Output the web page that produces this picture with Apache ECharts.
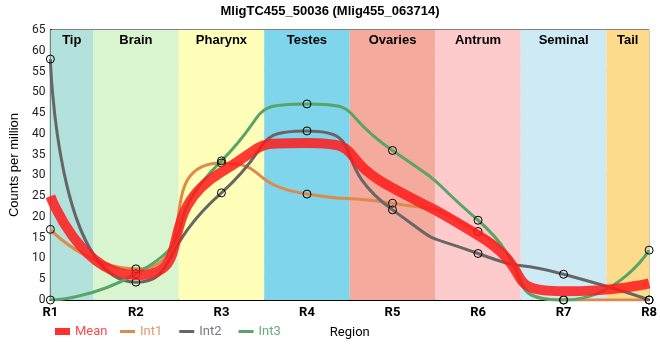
<!DOCTYPE html>
<html><head><meta charset="utf-8">
<script src="https://cdn.jsdelivr.net/npm/echarts@6/dist/echarts.min.js"></script>
<style>html,body{margin:0;padding:0;background:#fff}#c{width:660px;height:360px}</style>
</head><body><div id="c"></div>
<script>
const regions = ['R1','R2','R3','R4','R5','R6','R7','R8'];
const bandNames = ['Tip','Brain','Pharynx','Testes','Ovaries','Antrum','Seminal','Tail'];
const bandStarts = [1, 1.5, 2.5, 3.5, 4.5, 5.5, 6.5, 7.5];
const bandEnds   = [1.5, 2.5, 3.5, 4.5, 5.5, 6.5, 7.5, 8];
const bandColors = ['#b3e2dd','#d8f5d0','#ffffb9','#7fd5eb','#f4ab9d','#fdcbcb','#ceebf5','#fddb8b'];
const int1 = [17, 7.5, 33.0, 25.5, 23.3, 16.5, 0, 0];
const int2 = [58, 4.3, 25.8, 40.7, 21.7, 11.2, 6.2, 0];
const int3 = [0, 6.3, 33.5, 47.2, 36.0, 19.2, 0, 12];
const mean = [25, 6.0, 30.8, 37.8, 27.0, 15.6, 2.1, 4.0];

const pts = arr => arr.map((v, i) => [i + 1, v]);
const font = 'Roboto, "Liberation Sans", Arial, sans-serif';
const marker = {color: 'rgba(0,0,0,0)', borderColor: '#000', borderWidth: 1};
const SMOOTH = 0.7;

const chart = echarts.init(document.getElementById('c'));
chart.setOption({
  animation: false,
  title: {text: 'MligTC455_50036 (Mlig455_063714)', left: 'center', top: 0,
    textStyle: {fontSize: 13, fontWeight: 'bold', color: '#000', fontFamily: '"Liberation Sans", Arial, sans-serif'}},
  grid: {left: 50, right: 9, top: 30, bottom: 60, show: true, borderColor: '#000', borderWidth: 1, backgroundColor: 'transparent'},
  legend: [
    {left: 55, top: 325, padding: 0, itemWidth: 15, itemHeight: 7, icon: 'rect', itemGap: 6,
      textStyle: {fontSize: 13, fontFamily: font, color: '#ff4a4a'},
      data: [{name: 'Mean', itemStyle: {color: '#ff3030', borderWidth: 0}}]},
    {left: 120, top: 325, padding: 0, itemWidth: 15, itemHeight: 3, icon: 'rect', itemGap: 17,
      textStyle: {fontSize: 13, fontFamily: font},
      data: [
        {name: 'Int1', itemStyle: {color: '#dd8b4b', borderWidth: 0}, textStyle: {color: '#e39a66'}},
        {name: 'Int2', itemStyle: {color: '#666666', borderWidth: 0}, textStyle: {color: '#777788'}},
        {name: 'Int3', itemStyle: {color: '#5aa467', borderWidth: 0}, textStyle: {color: '#6aac7c'}}
      ]}
  ],
  xAxis: {type: 'value', min: 1, max: 8, interval: 1,
    name: 'Region', nameLocation: 'middle', nameGap: 26,
    nameTextStyle: {fontSize: 13, color: '#000', fontFamily: font},
    axisLine: {lineStyle: {color: '#000', width: 2}},
    axisTick: {show: false},
    axisLabel: {formatter: v => regions[v - 1], fontSize: 13, fontWeight: 'bold', color: '#000', fontFamily: font, margin: 6},
    splitLine: {show: true, lineStyle: {color: '#c8c8c8', width: 1}}},
  yAxis: {type: 'value', min: 0, max: 65, interval: 5,
    name: 'Counts per million', nameLocation: 'middle', nameGap: 23,
    nameTextStyle: {fontSize: 13, color: '#000', fontFamily: '"Liberation Sans", Arial, sans-serif'},
    axisLine: {show: true, lineStyle: {color: '#000', width: 2}},
    axisTick: {show: false},
    axisLabel: {fontSize: 12, color: '#222', fontFamily: font, margin: 5},
    splitLine: {show: true, lineStyle: {color: '#c8c8c8', width: 1}}},
  series: [
    {name: 'bands', type: 'line', data: [], silent: true, z: 0,
      markArea: {silent: true,
        label: {position: 'insideTop', distance: 4, fontSize: 13, fontWeight: 'bold', color: '#000', fontFamily: '"Liberation Sans", Arial, sans-serif'},
        data: bandNames.map((n, i) => [
          {name: n, xAxis: bandStarts[i], itemStyle: {color: bandColors[i], opacity: 1}},
          {xAxis: bandEnds[i]}
        ])}},
    {name: 'Int1', type: 'line', data: pts(int1), smooth: SMOOTH, z: 3,
      lineStyle: {color: '#dd8b4b', width: 3}, symbol: 'circle', symbolSize: 8, itemStyle: marker},
    {name: 'Int2', type: 'line', data: pts(int2), smooth: SMOOTH, z: 3,
      lineStyle: {color: '#666666', width: 3}, symbol: 'circle', symbolSize: 8, itemStyle: marker},
    {name: 'Int3', type: 'line', data: pts(int3), smooth: SMOOTH, z: 3,
      lineStyle: {color: '#5aa467', width: 3}, symbol: 'circle', symbolSize: 8, itemStyle: marker},
    {name: 'Mean', type: 'line', data: pts(mean), smooth: SMOOTH, z: 4,
      lineStyle: {color: '#ff1a1a', width: 10, opacity: 0.85}, showSymbol: false, symbol: 'none',
      itemStyle: {color: '#ff3030'}}
  ]
});
</script></body></html>
